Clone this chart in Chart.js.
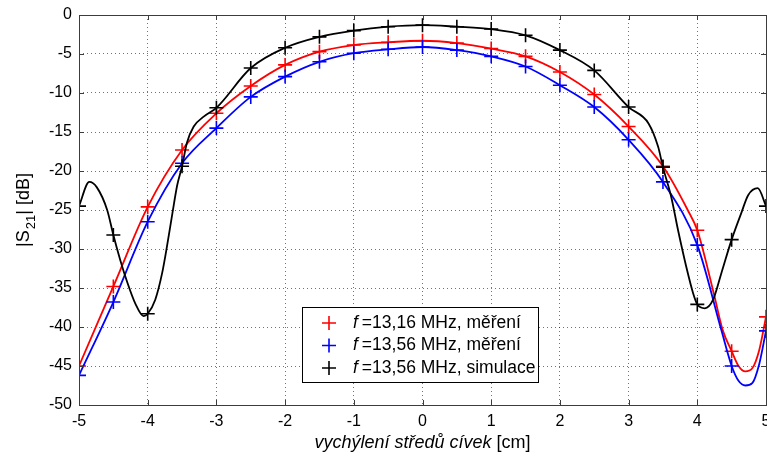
<!DOCTYPE html>
<html>
<head>
<meta charset="utf-8">
<script src="https://cdn.jsdelivr.net/npm/chart.js@4.4.1/dist/chart.umd.min.js"></script>
<style>
    html, body { margin: 0; padding: 0; background: #fff; }
</style>
</head>
<body>
<canvas id="graf" width="767" height="458"></canvas>
<script>
// posuny x, kde jsou vyneseny značky
const xZnacky = [-5, -4.5, -4, -3.5, -3, -2.5, -2, -1.5, -1, -0.5, 0, 0.5, 1, 1.5, 2, 2.5, 3, 3.5, 4, 4.5, 5];
const mereni1316 = [-45, -34.8, -24.6, -17.3, -12.6, -9.1, -6.4, -4.7, -3.85, -3.5, -3.3, -3.6, -4.3, -5.3, -7.3, -10.2, -14.3, -19.4, -27.6, -43.1, -38.7];
const mereni1356 = [-46.2, -36.8, -26.5, -19.0, -14.5, -10.5, -7.9, -6.0, -4.9, -4.4, -4.1, -4.5, -5.3, -6.6, -9.0, -11.8, -16.0, -21.4, -29.5, -45.0, -40.5];
const simulace = [-24.5, -28.2, -38.3, -19.4, -11.9, -6.8, -4.2, -2.8, -2.0, -1.5, -1.3, -1.5, -1.8, -2.6, -4.5, -7.1, -11.8, -19.5, -37.1, -28.8, -24.5];

// průběhy čar (hustší body)
const cara1316X = [-5, -4.5, -4, -3.5, -3, -2.5, -2, -1.5, -1, -0.5, 0, 0.5, 1, 1.5, 2, 2.5, 3, 3.5, 3.86, 4, 4.24, 4.37, 4.5, 4.6, 4.7, 4.8, 4.9, 5];
const cara1316Y = [-45, -34.8, -24.6, -17.3, -12.6, -9.1, -6.4, -4.7, -3.85, -3.5, -3.3, -3.6, -4.3, -5.3, -7.3, -10.2, -14.3, -19.4, -25.0, -27.6, -35.7, -40.4, -43.1, -45.0, -45.7, -45.3, -43.0, -38.7];
const cara1356X = [-5, -4.5, -4, -3.5, -3, -2.5, -2, -1.5, -1, -0.5, 0, 0.5, 1, 1.5, 2, 2.5, 3, 3.5, 4, 4.35, 4.5, 4.6, 4.7, 4.8, 4.9, 5];
const cara1356Y = [-46.2, -36.8, -26.5, -19.0, -14.5, -10.5, -7.9, -6.0, -4.9, -4.4, -4.1, -4.5, -5.3, -6.6, -9.0, -11.8, -16.0, -21.4, -29.5, -40.4, -45.0, -46.9, -47.5, -47.2, -44.8, -40.5];
const caraSimX = [-5, -4.85, -4.74, -4.59, -4.5, -4.4, -4.3, -4.18, -4.06, -4, -3.89, -3.79, -3.72, -3.64, -3.57, -3.5, -3.43, -3.33, -3.18, -3, -2.5, -2, -1.5, -1, -0.5, 0, 0.5, 1, 1.5, 2, 2.5, 3, 3.29, 3.43, 3.5, 3.62, 3.72, 3.84, 3.94, 4, 4.11, 4.23, 4.35, 4.5, 4.64, 4.74, 4.88, 5];
const caraSimY = [-24.5, -21.4, -22.1, -25.0, -28.2, -31.4, -34.2, -37.0, -38.6, -38.3, -36.5, -33.1, -29.7, -25.4, -21.8, -19.4, -16.4, -14.3, -13.0, -11.9, -6.8, -4.2, -2.8, -2.0, -1.5, -1.3, -1.5, -1.8, -2.6, -4.5, -7.1, -11.8, -13.9, -16.9, -19.5, -23.3, -27.6, -32.3, -35.7, -37.1, -37.6, -36.5, -33.1, -28.8, -25.4, -23.1, -22.2, -24.5];

const popisky = ['=13,16 MHz, měření', '=13,56 MHz, měření', '=13,56 MHz, simulace'];
const barvy = ['#ff0000', '#0000ff', '#000000'];
const xTicks = [-5, -4, -3, -2, -1, 0, 1, 2, 3, 4, 5];
const yTicks = [0, -5, -10, -15, -20, -25, -30, -35, -40, -45, -50];

const pismo = '"Liberation Sans", Arial, sans-serif';

function body(xs, ys) {
    return xs.map((x, i) => ({ x: x, y: ys[i] }));
}

function cara(xs, ys, barva) {
    return {
        data: body(xs, ys),
        borderColor: barva,
        borderWidth: 1.8,
        pointRadius: 0,
        fill: false,
        cubicInterpolationMode: 'monotone'
    };
}

function znacky(ys, barva) {
    return {
        data: body(xZnacky, ys),
        showLine: false,
        pointStyle: 'cross',
        pointRadius: 7,
        pointBorderWidth: 1.6,
        borderColor: barva,
        backgroundColor: barva
    };
}

// rámeček a ticky dovnitř (styl matlabu)
const ramecek = {
    id: 'ramecek',
    afterDatasetsDraw(chart) {
        const { ctx, chartArea: a, scales } = chart;
        ctx.save();
        ctx.strokeStyle = '#3c3c3c';
        ctx.lineWidth = 1;
        ctx.beginPath();
        xTicks.forEach(v => {
            const px = Math.round(scales.x.getPixelForValue(v)) + 0.5;
            ctx.moveTo(px, a.top); ctx.lineTo(px, a.top + 5);
            ctx.moveTo(px, a.bottom); ctx.lineTo(px, a.bottom - 5);
        });
        yTicks.forEach(v => {
            const py = Math.round(scales.y.getPixelForValue(v)) + 0.5;
            ctx.moveTo(a.left, py); ctx.lineTo(a.left + 5, py);
            ctx.moveTo(a.right, py); ctx.lineTo(a.right - 5, py);
        });
        ctx.stroke();
        ctx.strokeRect(Math.round(a.left) + 0.5, Math.round(a.top) + 0.5, Math.round(a.right - a.left), Math.round(a.bottom - a.top));
        ctx.restore();
    }
};

// popisy os + legenda uvnitř grafu
const popisy = {
    id: 'popisy',
    afterDraw(chart) {
        const { ctx, chartArea: a } = chart;
        ctx.save();
        ctx.fillStyle = '#000';
        ctx.textBaseline = 'middle';
        ctx.textAlign = 'left';

        // osa x
        const t1 = 'vychýlení středů cívek ';
        const t2 = '[cm]';
        ctx.font = 'italic 18px ' + pismo;
        const w1 = ctx.measureText(t1).width;
        ctx.font = '18px ' + pismo;
        const w2 = ctx.measureText(t2).width;
        let x0 = (a.left + a.right) / 2 - (w1 + w2) / 2;
        ctx.font = 'italic 18px ' + pismo;
        ctx.fillText(t1, x0, a.bottom + 38);
        ctx.font = '18px ' + pismo;
        ctx.fillText(t2, x0 + w1, a.bottom + 38);

        // osa y  |S21| [dB]
        ctx.translate(24, (a.top + a.bottom) / 2);
        ctx.rotate(-Math.PI / 2);
        ctx.font = '18px ' + pismo;
        const s1 = '|S';
        const s3 = '| [dB]';
        const ws1 = ctx.measureText(s1).width;
        const ws3 = ctx.measureText(s3).width;
        ctx.font = '13px ' + pismo;
        const ws2 = ctx.measureText('21').width + 1;
        let y0 = -(ws1 + ws2 + ws3) / 2;
        ctx.font = '18px ' + pismo;
        ctx.fillText(s1, y0, 0);
        ctx.font = '13px ' + pismo;
        ctx.fillText('21', y0 + ws1 + 1, 7);
        ctx.font = '18px ' + pismo;
        ctx.fillText(s3, y0 + ws1 + ws2, 0);
        ctx.restore();

        // legenda
        ctx.save();
        const lx = 302, ly = 307, lw = 236, lh = 75;
        ctx.fillStyle = '#fff';
        ctx.fillRect(lx, ly, lw, lh);
        ctx.strokeStyle = '#000';
        ctx.lineWidth = 1;
        ctx.strokeRect(lx + 0.5, ly + 0.5, lw, lh);
        ctx.textBaseline = 'middle';
        popisky.forEach((p, i) => {
            const ry = ly + 16 + i * 22.5;
            ctx.strokeStyle = barvy[i];
            ctx.lineWidth = 1.6;
            ctx.beginPath();
            ctx.moveTo(lx + 20, ry); ctx.lineTo(lx + 34, ry);
            ctx.moveTo(lx + 27, ry - 7); ctx.lineTo(lx + 27, ry + 7);
            ctx.stroke();
            ctx.fillStyle = '#000';
            ctx.font = 'italic 17.5px ' + pismo;
            ctx.fillText('f', lx + 51, ry);
            ctx.font = '17.5px ' + pismo;
            ctx.fillText(' ' + p, lx + 55, ry);
        });
        ctx.restore();
    }
};

new Chart(document.getElementById('graf').getContext('2d'), {
    type: 'line',
    data: {
        datasets: [
            cara(caraSimX, caraSimY, barvy[2]),
            znacky(simulace, barvy[2]),
            cara(cara1356X, cara1356Y, barvy[1]),
            znacky(mereni1356, barvy[1]),
            cara(cara1316X, cara1316Y, barvy[0]),
            znacky(mereni1316, barvy[0])
        ]
    },
    options: {
        responsive: false,
        animation: false,
        layout: { autoPadding: false, padding: { left: 0, right: 1, top: 15, bottom: 0 } },
        plugins: {
            legend: { display: false },
            tooltip: { enabled: false }
        },
        scales: {
            x: {
                type: 'linear',
                min: -5,
                max: 5,
                afterBuildTicks: s => { s.ticks = xTicks.map(v => ({ value: v })); },
                afterFit: s => { s.height = 53; s.paddingLeft = 0; s.paddingRight = 0; },
                ticks: { color: '#000', font: { family: pismo, size: 16 }, padding: 7, maxRotation: 0, autoSkip: false },
                grid: { color: 'rgba(0,0,0,0.55)', drawTicks: false },
                border: { display: false, dash: [1, 3] }
            },
            y: {
                min: -50,
                max: 0,
                afterBuildTicks: s => { s.ticks = yTicks.map(v => ({ value: v })); },
                afterFit: s => { s.width = 79; s.paddingTop = 0; s.paddingBottom = 0; },
                ticks: { color: '#000', font: { family: pismo, size: 16 }, padding: 7, autoSkip: false },
                grid: { color: 'rgba(0,0,0,0.55)', drawTicks: false },
                border: { display: false, dash: [1, 3] }
            }
        }
    },
    plugins: [ramecek, popisy]
});
</script>
</body>
</html>
